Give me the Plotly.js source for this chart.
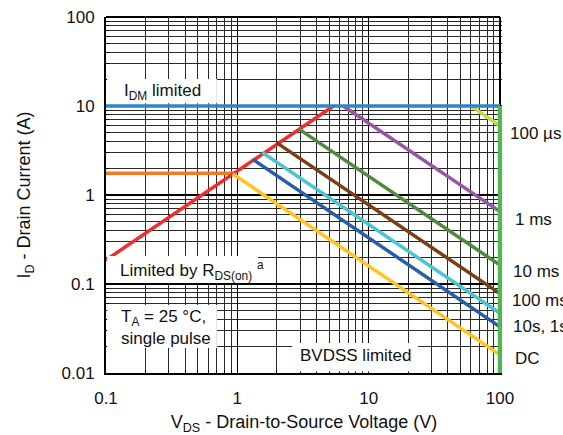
<!DOCTYPE html>
<html>
<head>
<meta charset="utf-8">
<script src="https://cdn.plot.ly/plotly-3.0.1.min.js"></script>
<style>html,body{margin:0;padding:0;background:#fff;}#chart{width:563px;height:435px;}</style>
</head>
<body>
<div id="chart"></div>
<script>
// Safe operating area data (V in volts, I in amps)
const idmV = [0.1, 100];
const idmI = [10, 10];
const pulseV = [0.1, 0.93];
const pulseI = [1.75, 1.75];
const rdsV = [0.1, 5.4];
const rdsI = [0.186, 10];
const us100V = [60, 100];
const us100I = [10, 6.0];
const ms1V = [6.4, 100];
const ms1I = [10, 0.65];
const ms10V = [2.95, 100];
const ms10I = [5.5, 0.163];
const ms100V = [2.0, 100];
const ms100I = [3.85, 0.078];
const s1V = [1.55, 100];
const s1I = [3.0, 0.047];
const s10V = [1.32, 100];
const s10I = [2.5, 0.033];
const dcV = [0.92, 100];
const dcI = [1.73, 0.016];
const bvV = [100, 100];
const bvI = [10, 0.01];

const xTickVals = [0.1, 1, 10, 100];
const xTickText = ['0.1', '1', '10', '100'];
const yTickVals = [0.01, 0.1, 1, 10, 100];
const yTickText = ['0.01', '0.1', '1', '10', '100'];

const curveLabels = ['100 µs', '1 ms', '10 ms', '100 ms', '10s, 1s', 'DC'];

const W = 3.5;
function tr(x, y, color, w) {
  return {x: x, y: y, mode: 'lines', type: 'scatter', line: {color: color, width: w || W}, hoverinfo: 'skip', showlegend: false};
}
const traces = [
  tr(pulseV, pulseI, '#F47A20'),
  tr(rdsV, rdsI, '#EE2D2E'),
  tr(dcV, dcI, '#FFC322'),
  tr(s10V, s10I, '#2A5DA8'),
  tr(s1V, s1I, '#4DC4D0'),
  tr(ms100V, ms100I, '#7B3F16'),
  tr(ms10V, ms10I, '#4C8B3C'),
  tr(ms1V, ms1I, '#9B55A8'),
  tr(us100V, us100I, '#C8DA4A'),
  tr(idmV, idmI, '#2E86C8'),
  tr(bvV, bvI, '#4DBA4F', 4.5)
];

const fnt = {family: 'Liberation Sans, Arial, sans-serif', size: 17, color: '#111'};
const titleFnt = {family: 'Liberation Sans, Arial, sans-serif', size: 18, color: '#111'};

// plot area is 396 px wide; the frame's right edge (x = 100 V) sits at 394 px
const frameR = 394 / 396;

function box(x0, x1, y0, y1) {
  return {type: 'rect', xref: 'paper', yref: 'paper', x0: x0, x1: x1, y0: y0, y1: y1, fillcolor: '#fff', line: {width: 0}, layer: 'above'};
}
function frameLine(x0, x1, y0, y1) {
  return {type: 'line', xref: 'paper', yref: 'paper', x0: x0, x1: x1, y0: y0, y1: y1, line: {color: '#000', width: 2}, layer: 'below'};
}

const labelY = [0.674, 0.430, 0.285, 0.203, 0.130, 0.042];
const labelX = [1.015, 1.028, 1.023, 1.020, 1.023, 1.028];

const annotations = [
  {text: 'I<sub>DM</sub> limited', x: 0.040, y: 0.789},
  {text: 'Limited by R<sub>DS(on)</sub> <sup>a</sup>', x: 0.030, y: 0.289},
  {text: 'T<sub>A</sub> = 25 °C,<br>single pulse', x: 0.033, y: 0.128, align: 'left'},
  {text: 'BVDSS limited', x: 0.629, y: 0.048, xanchor: 'center'}
].map(a => Object.assign({xref: 'paper', yref: 'paper', xanchor: 'left', yanchor: 'middle', showarrow: false, font: fnt}, a));

curveLabels.forEach((t, i) => {
  annotations.push({text: t, xref: 'paper', yref: 'paper', x: labelX[i], y: labelY[i], xanchor: 'left', yanchor: 'middle', showarrow: false, font: fnt});
});

const axisCommon = {
  type: 'log',
  layer: 'below traces',
  showline: true, linecolor: '#000', linewidth: 2, mirror: false,
  showgrid: true, gridcolor: '#000', gridwidth: 1.5,
  ticks: 'inside', ticklen: 4, tickcolor: '#000',
  tickfont: fnt, zeroline: false,
  minor: {dtick: 'D1', showgrid: true, gridcolor: '#2a2a2a', gridwidth: 1, ticks: 'inside', ticklen: 3, tickcolor: '#000'}
};

const layout = {
  width: 563, height: 435,
  margin: {l: 106, r: 61, t: 17, b: 62},
  paper_bgcolor: '#fff', plot_bgcolor: '#fff',
  font: fnt,
  showlegend: false,
  xaxis: Object.assign({}, axisCommon, {
    range: [-1, -1 + 3 / frameR], tickvals: xTickVals, ticktext: xTickText,
    ticklabelstandoff: 9,
    title: {text: 'V<sub>DS</sub> - Drain-to-Source Voltage (V)', font: titleFnt, standoff: 14}
  }),
  yaxis: Object.assign({}, axisCommon, {
    range: [-2, 2], tickvals: yTickVals, ticktext: yTickText,
    ticklabelstandoff: 6,
    title: {text: 'I<sub>D</sub> - Drain Current (A)', font: titleFnt, standoff: 26}
  }),
  shapes: [
    frameLine(0, frameR, 1, 1),
    frameLine(frameR, frameR, 0.75, 1),
    box(0.003, 0.280, 0.758, 0.826),
    box(0.003, 0.384, 0.253, 0.329),
    box(0.003, 0.280, 0.070, 0.191),
    box(0.470, 0.788, 0.004, 0.084)
  ],
  annotations: annotations
};

Plotly.newPlot('chart', traces, layout, {displayModeBar: false, staticPlot: true});
</script>
</body>
</html>
